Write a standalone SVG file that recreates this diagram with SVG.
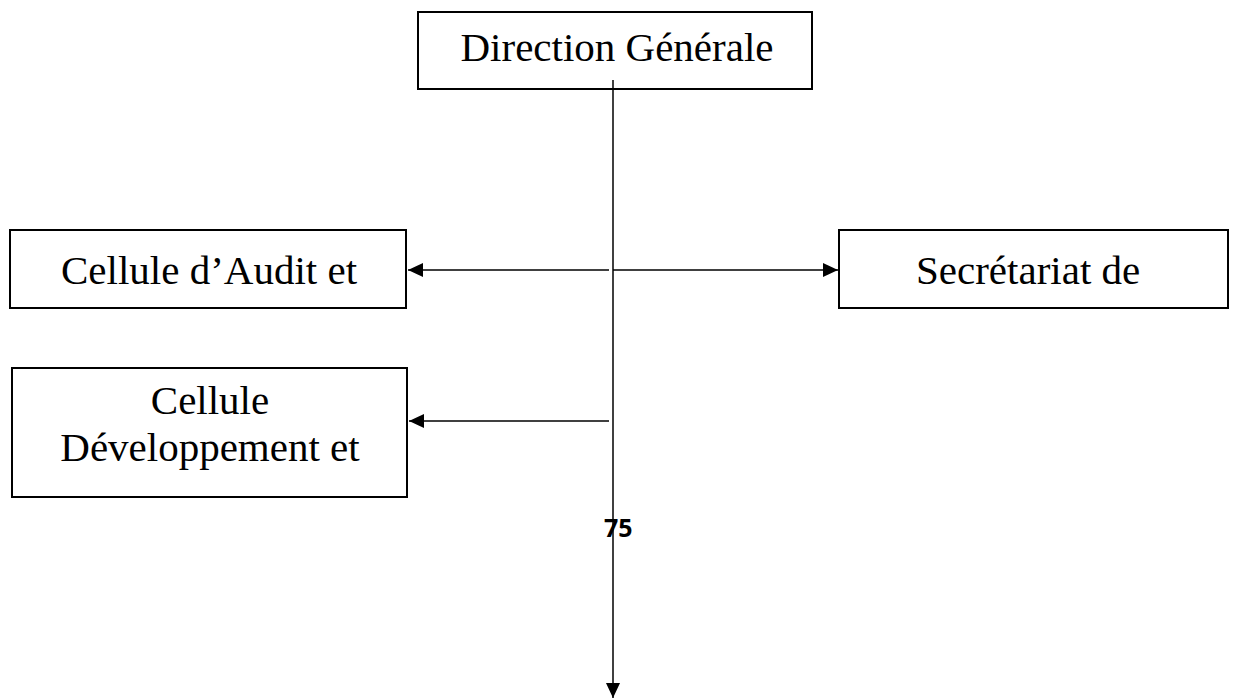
<svg xmlns="http://www.w3.org/2000/svg" width="1239" height="698" viewBox="0 0 1239 698">
  <style>
    .box { fill: #ffffff; stroke: #000000; stroke-width: 2; }
    .lbl { font-family: "Liberation Serif", "Times New Roman", serif; font-size: 41px; fill: #000000; }
    .link { fill: none; stroke: #000000; stroke-width: 1.5; }
    .num { font-family: "Open Sans", "Liberation Sans", sans-serif; font-weight: bold; font-size: 25px; fill: #000000; }
  </style>
  <defs>
    <marker id="arrow" viewBox="0 0 15 14" refX="15" refY="7" markerWidth="15" markerHeight="14" markerUnits="userSpaceOnUse" orient="auto">
      <path d="M0,0 L15,7 L0,14 Z" fill="#000000"/>
    </marker>
  </defs>
  <rect width="1239" height="698" fill="#ffffff"/>

  <g id="direction-generale">
    <rect class="box" x="418" y="12" width="394" height="77"/>
    <text class="lbl" x="617" y="61" text-anchor="middle">Direction Générale</text>
  </g>

  <g id="cellule-audit">
    <rect class="box" x="10" y="230" width="396" height="78"/>
    <text class="lbl" x="209" y="284" text-anchor="middle">Cellule d’Audit et</text>
  </g>

  <g id="secretariat">
    <rect class="box" x="839" y="230" width="389" height="78"/>
    <text class="lbl" x="916" y="284">Secrétariat de</text>
  </g>

  <g id="cellule-developpement">
    <rect class="box" x="12" y="368" width="395" height="129"/>
    <text class="lbl" x="210" y="414" text-anchor="middle">Cellule</text>
    <text class="lbl" x="210" y="461" text-anchor="middle">Développement et</text>
  </g>

  <g id="connectors">
    <line class="link" x1="613" y1="80" x2="613" y2="698" marker-end="url(#arrow)"/>
    <line class="link" x1="609" y1="270" x2="408" y2="270" marker-end="url(#arrow)"/>
    <line class="link" x1="613" y1="270" x2="838" y2="270" marker-end="url(#arrow)"/>
    <line class="link" x1="609" y1="421" x2="409" y2="421" marker-end="url(#arrow)"/>
  </g>

  <text class="num" x="604" y="537">75</text>
</svg>
